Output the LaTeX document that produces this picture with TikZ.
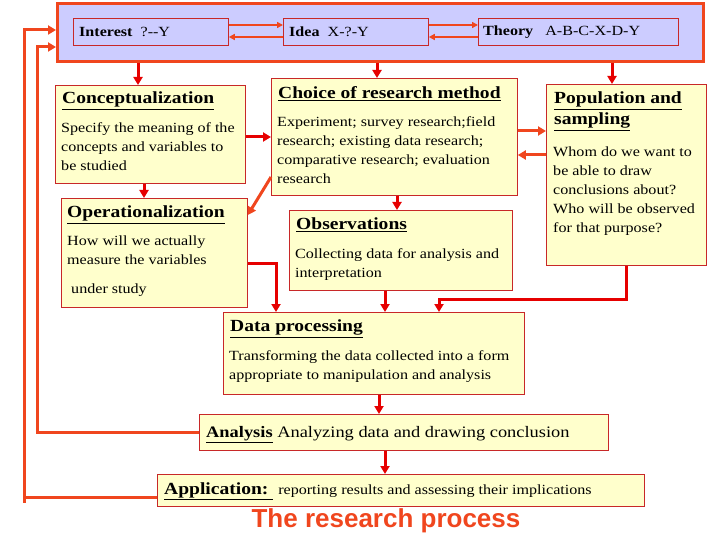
\documentclass[tikz,border=0pt]{standalone}
\usepackage{fontspec}
\setmainfont[FakeStretch=1.15]{Liberation Serif}
\newfontfamily\titlefont{Liberation Sans}
\usetikzlibrary{arrows.meta}
\definecolor{arr}{RGB}{230,0,0}
\definecolor{oarr}{RGB}{240,70,30}
\definecolor{ybox}{RGB}{255,255,204}
\definecolor{bbox}{RGB}{204,204,255}
\definecolor{bord}{RGB}{200,40,40}
\tikzset{
  box/.style={draw=bord, line width=0.8pt, fill=ybox, anchor=north west, inner sep=0pt},
  ibox/.style={draw=bord, line width=0.8pt, fill=bbox, anchor=north west, inner sep=0pt},
  ra/.style={draw=arr, line width=3pt, -{Triangle[width=9pt,length=8pt]}},
  oa/.style={draw=oarr, line width=3pt, -{Triangle[width=9pt,length=8pt]}},
  thin/.style={draw=oarr, line width=2pt, -{Triangle[width=6pt,length=6pt]}},
  ttl/.style={anchor=north west, inner sep=0pt, font=\fontsize{17}{18}\selectfont\bfseries},
  bdy/.style={anchor=north west, inner sep=0pt, align=left, font=\fontsize{14}{19}\selectfont},
  lbl/.style={anchor=west, inner sep=0pt, font=\fontsize{14}{15}\selectfont},
}
\begin{document}
\begin{tikzpicture}[x=1pt,y=-1pt]
\useasboundingbox (0,0) rectangle (720,540);
% top block
\node[draw=oarr, line width=3pt, fill=bbox, anchor=north west, inner sep=0pt, minimum width=646pt, minimum height=58pt] (top) at (56,2) {};
\node[ibox, minimum width=155pt, minimum height=27pt] (int) at (73,18) {};
\node[ibox, minimum width=145pt, minimum height=27pt] (idea) at (283,18) {};
\node[ibox, minimum width=200pt, minimum height=27pt] (thy) at (478,18) {};
\node[lbl] (intt) at (79,32) {\textbf{Interest}\ \ ?-{}-Y};
\node[lbl] (ideat) at (289,32) {\textbf{Idea}\ \ X-?-Y};
\node[lbl] (thyt) at (483,32) {\textbf{Theory}\ \ \ A-B-C-X-D-Y};
\draw[thin] (int.east |- {(0,25)}) -- (idea.west |- {(0,25)});
\draw[thin] (idea.west |- {(0,37)}) -- (int.east |- {(0,37)});
\draw[thin] (idea.east |- {(0,25)}) -- (thy.west |- {(0,25)});
\draw[thin] (thy.west |- {(0,37)}) -- (idea.east |- {(0,37)});
% boxes
\node[box, minimum width=190pt, minimum height=98pt] (conc) at (55,85) {};
\node[box, minimum width=246pt, minimum height=117pt] (cho) at (271,78) {};
\node[box, minimum width=160pt, minimum height=181pt] (pop) at (546,84) {};
\node[box, minimum width=186pt, minimum height=109pt] (oper) at (61,198) {};
\node[box, minimum width=223pt, minimum height=80pt] (obs) at (289,210) {};
\node[box, minimum width=301pt, minimum height=82pt] (dat) at (223,312) {};
\node[box, minimum width=409pt, minimum height=36pt] (ana) at (199,414) {};
\node[box, minimum width=487pt, minimum height=32pt] (app) at (157,474) {};
% texts
\node[ttl] (conct) at (62,92) {\underline{Conceptualization}};
\node[bdy] (concb) at (61,122) {Specify the meaning of the\\concepts and variables to\\be studied};
\node[ttl] (chot) at (278,86) {\underline{Choice of research method}};
\node[bdy] (chob) at (277,116) {Experiment; survey research;field\\research; existing data research;\\comparative research; evaluation\\research};
\node[ttl, align=left] (popt) at (554,92) {\underline{Population and}\\[3pt]\underline{sampling}};
\node[bdy] (popb) at (553,147) {Whom do we want to\\be able to draw\\conclusions about?\\Who will be observed\\for that purpose?};
\node[ttl] (opert) at (67,206) {\underline{Operationalization}};
\node[bdy] (operb) at (67,236) {How will we actually\\measure the variables\\[10pt]\ under study};
\node[ttl] (obst) at (296,218) {\underline{Observations}};
\node[bdy] (obsb) at (295,248) {Collecting data for analysis and\\interpretation};
\node[ttl] (datt) at (230,320) {\underline{Data processing}};
\node[bdy] (datb) at (229,350) {Transforming the data collected into a form\\appropriate to manipulation and analysis};
\node[anchor=west, inner sep=0pt, font=\fontsize{16}{17}\selectfont] (anat) at (206,435) {\textbf{\underline{Analysis}} Analyzing data and drawing conclusion};
\node[anchor=west, inner sep=0pt] (appt) at (164,491) {\fontsize{17}{18}\selectfont\textbf{\underline{Application:\ }}\ \fontsize{14}{15}\selectfont reporting results and assessing their implications};
\node[anchor=center, inner sep=0pt, text=oarr, font=\titlefont\fontsize{26}{28}\selectfont\bfseries] (title) at (386,521) {The research process};
% arrows
\draw[ra] (top.south -| {(138,0)}) -- (conc.north -| {(138,0)});
\draw[ra] (top.south -| {(377,0)}) -- (cho.north -| {(377,0)});
\draw[ra] (top.south -| {(612,0)}) -- (pop.north -| {(612,0)});
\draw[ra] (conc.east |- {(0,137)}) -- (cho.west |- {(0,137)});
\draw[oa] (cho.east |- {(0,131)}) -- (pop.west |- {(0,131)});
\draw[oa] (pop.west |- {(0,155)}) -- (cho.east |- {(0,155)});
\draw[ra] (conc.south -| {(144,0)}) -- (oper.north -| {(144,0)});
\draw[oa] (cho.west |- {(0,177)}) -- (oper.east |- {(0,215)});
\draw[ra] (cho.south -| {(397,0)}) -- (obs.north -| {(397,0)});
\draw[ra] (oper.east |- {(0,263)}) -| (dat.north -| {(276,0)});
\draw[ra] (obs.south -| {(385,0)}) -- (dat.north -| {(385,0)});
\draw[ra] (pop.south -| {(626,0)}) |- (439,299) -- (dat.north -| {(439,0)});
\draw[ra] (dat.south -| {(379,0)}) -- (ana.north -| {(379,0)});
\draw[ra] (ana.south -| {(385,0)}) -- (app.north -| {(385,0)});
\draw[oa] (ana.west |- {(0,432)}) -| (37,47) -- (top.west |- {(0,47)});
\draw[oa] (app.west |- {(0,497)}) -| (24,30) -- (top.west |- {(0,30)});
\coordinate (lowend) at (24,503);
\draw[draw=oarr, line width=3pt] (24,496) -- (lowend);
\end{tikzpicture}
\end{document}
